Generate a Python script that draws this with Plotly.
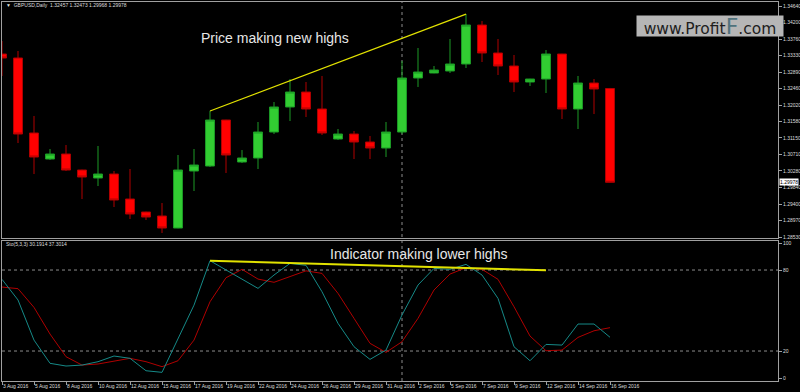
import plotly.graph_objects as go

# ---------------- data ----------------
dates = ["2016-08-03", "2016-08-04", "2016-08-05", "2016-08-07", "2016-08-08", "2016-08-09",
         "2016-08-10", "2016-08-11", "2016-08-12", "2016-08-14", "2016-08-15", "2016-08-16",
         "2016-08-17", "2016-08-18", "2016-08-19", "2016-08-21", "2016-08-22", "2016-08-23",
         "2016-08-24", "2016-08-25", "2016-08-26", "2016-08-28", "2016-08-29", "2016-08-30",
         "2016-08-31", "2016-09-01", "2016-09-02", "2016-09-04", "2016-09-05", "2016-09-06",
         "2016-09-07", "2016-09-08", "2016-09-09", "2016-09-11", "2016-09-12", "2016-09-13",
         "2016-09-14", "2016-09-15", "2016-09-16"]

opens = [1.33370, 1.33265, 1.31281, 1.30593, 1.30725, 1.30302, 1.30091, 1.30196, 1.29535, 1.29191,
         1.29086, 1.28768, 1.30276, 1.30408, 1.31625, 1.30514, 1.30620, 1.31307, 1.31969, 1.32365,
         1.31916, 1.31122, 1.31254, 1.31043, 1.30884, 1.31307, 1.32736, 1.32868, 1.32921, 1.33106,
         1.34137, 1.33397, 1.33053, 1.32630, 1.32709, 1.33370, 1.31916, 1.32603, 1.32457]
highs = [1.33714, 1.33450, 1.31731, 1.30858, 1.30963, 1.30310, 1.30937, 1.30276, 1.30329, 1.29200,
         1.29429, 1.30699, 1.30858, 1.31863, 1.31630, 1.30831, 1.31572, 1.32101, 1.32709, 1.32630,
         1.32789, 1.31387, 1.31334, 1.31202, 1.31572, 1.33185, 1.33529, 1.33053, 1.33767, 1.34428,
         1.34243, 1.33767, 1.33344, 1.32715, 1.33476, 1.33375, 1.32789, 1.32709, 1.32473]
lows = [1.32789, 1.31016, 1.30196, 1.30567, 1.30276, 1.29535, 1.29879, 1.29324, 1.29006, 1.28980,
        1.28636, 1.28760, 1.29747, 1.30382, 1.30223, 1.30487, 1.30329, 1.31254, 1.31598, 1.31704,
        1.31228, 1.31096, 1.30593, 1.30593, 1.30646, 1.31254, 1.32498, 1.32860, 1.32868, 1.33000,
        1.33159, 1.32815, 1.32365, 1.32524, 1.32339, 1.31651, 1.31387, 1.31783, 1.29968]
closes = [1.33265, 1.31254, 1.30646, 1.30725, 1.30302, 1.30117, 1.30196, 1.29509, 1.29138, 1.29059,
          1.28768, 1.30302, 1.30434, 1.31625, 1.30699, 1.30620, 1.31307, 1.31969, 1.32365, 1.31916,
          1.31281, 1.31254, 1.31043, 1.30884, 1.31307, 1.32736, 1.32894, 1.32947, 1.33106, 1.34137,
          1.33397, 1.33053, 1.32630, 1.32709, 1.33370, 1.31916, 1.32603, 1.32445, 1.29978]

# Stochastic (5,3,3): main (%K) and signal (%D)
stoch_main = [73.1, 57.8, 28.1, 10.9, 8.9, 9.6, 12.1, 16.3, 14.6, 5.4,
              4.2, 28.5, 54.0, 86.9, 80.0, 73.1, 66.4, 76.3, 84.9, 83.5,
              63.9, 40.5, 23.2, 13.8, 20.7, 46.7, 68.9, 81.2, 80.5, 84.2,
              76.3, 59.0, 23.2, 12.8, 24.9, 24.4, 40.0, 40.0, 30.1914]
stoch_signal = [67.4, 66.2, 52.3, 32.6, 15.8, 9.6, 10.4, 12.6, 14.6, 12.1,
                8.4, 12.8, 28.1, 56.5, 74.3, 80.5, 73.3, 70.9, 75.1, 79.4,
                77.5, 62.7, 44.2, 25.7, 19.0, 26.9, 44.2, 65.2, 77.0, 81.7,
                80.5, 73.1, 52.8, 31.1, 20.2, 20.7, 30.1, 35.0, 37.3014]

# Trend lines drawn on the chart
price_trend_x = ["2016-08-18", "2016-09-06"]
price_trend_y = [1.31863, 1.34428]
ind_trend_x = ["2016-08-18", "2016-09-12"]
ind_trend_y = [86.9, 79.8]

# Axis ticks
price_ticks = [1.34640, 1.34200, 1.33760, 1.33330, 1.32890, 1.32460, 1.32020, 1.31580,
               1.31150, 1.30710, 1.30280, 1.29840, 1.29400, 1.28970, 1.28530]
stoch_ticks = [100, 80, 20, 0]
stoch_levels = [80, 20]
x_tick_dates = dates[::2]
x_tick_labels = ["3 Aug 2016", "5 Aug 2016", "8 Aug 2016", "10 Aug 2016", "12 Aug 2016",
                 "15 Aug 2016", "17 Aug 2016", "19 Aug 2016", "22 Aug 2016", "24 Aug 2016",
                 "26 Aug 2016", "29 Aug 2016", "31 Aug 2016", "2 Sep 2016", "5 Sep 2016",
                 "7 Sep 2016", "9 Sep 2016", "12 Sep 2016", "14 Sep 2016", "16 Sep 2016"]
separator_date = "2016-09-01"

# ---------------- styling ----------------
FRAME = "#a0a0a0"
TXT = "#dcdcdc"
SMALL = dict(family="Liberation Sans, Arial, sans-serif", size=5, color=TXT)
BIG = dict(family="Liberation Sans, Arial, sans-serif", size=14, color="#e6e6e6")

fig = go.Figure()

fig.add_trace(go.Candlestick(
    x=dates, open=opens, high=highs, low=lows, close=closes,
    increasing=dict(line=dict(color="#1c9a26", width=1), fillcolor="#32cd32"),
    decreasing=dict(line=dict(color="#b00000", width=1), fillcolor="#ff0000"),
    whiskerwidth=0, xaxis="x", yaxis="y", showlegend=False, hoverinfo="skip"))

fig.add_trace(go.Scatter(x=price_trend_x, y=price_trend_y, mode="lines",
                         line=dict(color="#e2e200", width=1.3), xaxis="x", yaxis="y",
                         showlegend=False, hoverinfo="skip"))

fig.add_trace(go.Scatter(x=dates, y=stoch_signal, mode="lines",
                         line=dict(color="#b00000", width=1), xaxis="x2", yaxis="y2",
                         showlegend=False, hoverinfo="skip"))
fig.add_trace(go.Scatter(x=dates, y=stoch_main, mode="lines",
                         line=dict(color="#168a88", width=1), xaxis="x2", yaxis="y2",
                         showlegend=False, hoverinfo="skip"))
fig.add_trace(go.Scatter(x=ind_trend_x, y=ind_trend_y, mode="lines",
                         line=dict(color="#e2e200", width=2), xaxis="x2", yaxis="y2",
                         showlegend=False, hoverinfo="skip"))

xrange = [0.0, 48.5]
sep_idx = dates.index(separator_date)

shapes = []
for lvl in stoch_levels:
    shapes.append(dict(type="line", xref="x2 domain", x0=0, x1=1, yref="y2", y0=lvl, y1=lvl,
                       line=dict(color="#8c8c8c", width=1, dash="dot"), layer="below"))
shapes.append(dict(type="line", xref="x", x0=sep_idx, x1=sep_idx, yref="paper", y0=0, y1=1,
                   line=dict(color="#8c8c8c", width=1, dash="dot"), layer="below"))

annotations = [
    dict(text="▼  GBPUSD,Daily  1.32457 1.32473 1.29968 1.29978", xref="paper", yref="paper",
         x=0.003, y=0.992, xanchor="left", yanchor="middle", showarrow=False, font=SMALL),
    dict(text="Sto(5,3,3) 30.1914 37.3014", xref="paper", yref="paper",
         x=0.002, y=0.3615, xanchor="left", yanchor="middle", showarrow=False, font=SMALL),
    dict(text="Price making new highs", xref="x", yref="y", x=17.06, y=1.33794,
         showarrow=False, font=BIG),
    dict(text="Indicator making lower highs", xref="x2", yref="y2", x=26.0, y=91.9,
         showarrow=False, font=BIG),
    dict(text=f"{closes[-1]:.5f}", xref="paper", yref="y", x=1, y=closes[-1], xanchor="left",
         xshift=1, showarrow=False, bgcolor="#ffffff", borderpad=0,
         font=dict(family="Liberation Sans, Arial, sans-serif", size=5, color="#000000")),
    dict(text="www.Profit<span style='color:#4f727c;font-size:22px'>F</span>.com",
         xref="paper", yref="paper", x=0.8170, y=0.9657, xanchor="left", yanchor="top",
         showarrow=False, bgcolor="#b6b6b6", borderpad=0, width=146, height=20,
         font=dict(family="DejaVu Sans, Verdana, sans-serif", size=15.5, color="#1e1e1e")),
]

fig.update_layout(
    width=800, height=392,
    margin=dict(l=2, r=22, t=2, b=11, autoexpand=False),
    paper_bgcolor="#000000", plot_bgcolor="#000000",
    showlegend=False, boxgap=0.2,
    shapes=shapes, annotations=annotations,
    xaxis=dict(domain=[0, 1], anchor="y", type="category", range=xrange, automargin=False,
               showticklabels=False, ticks="", showgrid=False, zeroline=False,
               showline=True, mirror=True, linecolor=FRAME, linewidth=1,
               rangeslider=dict(visible=False)),
    yaxis=dict(domain=[0.3773, 1], anchor="x", side="right", range=[1.28504, 1.34746],
               automargin=False,
               tickvals=price_ticks, ticktext=[f"{v:.5f}" for v in price_ticks],
               ticks="outside", ticklen=3, tickcolor=FRAME, tickfont=SMALL,
               showgrid=False, zeroline=False, showline=True, mirror=True,
               linecolor=FRAME, linewidth=1),
    xaxis2=dict(domain=[0, 1], anchor="y2", type="category", matches="x", range=xrange,
                automargin=False, tickangle=0,
                tickvals=x_tick_dates, ticktext=x_tick_labels, ticks="outside", ticklen=3,
                tickcolor=FRAME, tickfont=SMALL, ticklabelposition="outside right",
                showgrid=False, zeroline=False, showline=True, mirror=True,
                linecolor=FRAME, linewidth=1),
    yaxis2=dict(domain=[0, 0.3694], anchor="x2", side="right", range=[-2.2, 101.5],
                automargin=False,
                tickvals=stoch_ticks, ticktext=[str(v) for v in stoch_ticks],
                ticks="outside", ticklen=3, tickcolor=FRAME, tickfont=SMALL,
                showgrid=False, zeroline=False, showline=True, mirror=True,
                linecolor=FRAME, linewidth=1),
)

fig.write_html("out.html", config={"displayModeBar": False},
               post_script="document.body.style.margin='0';document.body.style.background='#000';")
